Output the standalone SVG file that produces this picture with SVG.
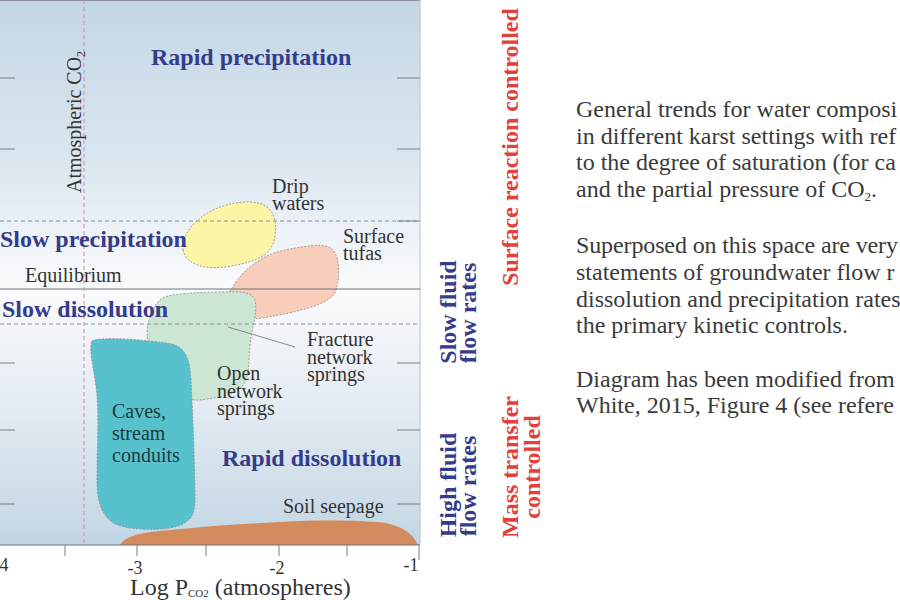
<svg xmlns="http://www.w3.org/2000/svg" width="900" height="600" viewBox="0 0 900 600">
  <defs>
    <linearGradient id="bg" x1="0" y1="0" x2="0" y2="545" gradientUnits="userSpaceOnUse">
      <stop offset="0" stop-color="#C3D6E5"/>
      <stop offset="0.3" stop-color="#DCE7F0"/>
      <stop offset="0.53" stop-color="#FAFBFD"/>
      <stop offset="0.75" stop-color="#E3EBF2"/>
      <stop offset="1" stop-color="#C2D5E4"/>
    </linearGradient>
    <style>
      .lbl { font-family: "Liberation Serif", "Times New Roman", serif; font-size: 20px; fill: #333333; }
      .cave { fill: #21393B; }
      .zone { font-family: "Liberation Serif", "Times New Roman", serif; font-size: 24px; font-weight: bold; fill: #353C8A; }
      .side { font-family: "Liberation Serif", "Times New Roman", serif; font-size: 24px; font-weight: bold; text-anchor: middle; }
      .blue { fill: #353C8A; }
      .red { fill: #E2403C; }
      .para { font-family: "Liberation Serif", "Times New Roman", serif; font-size: 24px; fill: #3A3A3A; }
      .tick { stroke: #7A7F88; stroke-width: 1; fill: none; }
      .hdash { stroke: #8C9096; stroke-width: 1; stroke-dasharray: 4 3; fill: none; }
      .blob { stroke: #8A8A8A; stroke-width: 0.8; stroke-dasharray: 2 1.5; }
      .num { font-family: "Liberation Serif", "Times New Roman", serif; font-size: 18px; fill: #333333; text-anchor: middle; }
    </style>
  </defs>

  <rect x="0" y="0" width="900" height="600" fill="#FFFFFF"/>

  <!-- plot background -->
  <rect x="0" y="0" width="420" height="545" fill="url(#bg)"/>
  <line x1="0" y1="0.5" x2="420" y2="0.5" stroke="#8A9099" stroke-width="1"/>
  <line x1="420" y1="0" x2="420" y2="545" stroke="#B8C2CC" stroke-width="1"/>

  <!-- nodes -->
  <g id="surface-tufas">
    <path class="blob" fill="#F8CDB9" d="M 228,295 C 240,272 258,256 285,250 C 305,246 322,243 331,248 C 341,256 340,280 335,293 C 327,305 302,310 284,314 C 268,317 256,320 250,318 Z"/>
    <text class="lbl" x="343" y="243">Surface</text>
    <text class="lbl" x="343" y="260">tufas</text>
  </g>

  <g id="drip-waters">
    <path class="blob" fill="#FDF5A6" d="M 183,250 C 180,232 205,204 245,202 C 268,201 278,212 275,235 C 273,255 258,262 225,267 C 200,270 185,262 183,250 Z"/>
    <text class="lbl" x="272" y="193">Drip</text>
    <text class="lbl" x="272" y="210">waters</text>
  </g>

  <g id="open-network-springs">
    <path class="blob" fill="#CBE6D3" d="M 160,300 C 166,294 186,293 215,292 C 236,292 251,290 255,300 C 258,312 252,326 250,345 C 248,365 250,378 241,388 C 232,396 215,398 200,400 C 185,401 160,390 155,370 C 150,350 145,335 148,325 C 150,315 154,305 160,300 Z"/>
    <text class="lbl" x="217" y="380">Open</text>
    <text class="lbl" x="217" y="398">network</text>
    <text class="lbl" x="217" y="415">springs</text>
  </g>

  <g id="fracture-network-springs">
    <text class="lbl" x="307" y="346">Fracture</text>
    <text class="lbl" x="307" y="364">network</text>
    <text class="lbl" x="307" y="381">springs</text>
  </g>

  <g id="caves-stream-conduits">
    <path class="blob" fill="#57C2CD" d="M 92,341 C 100,336 150,340 172,344 C 186,348 190,360 191,380 C 193,420 195,470 195,500 C 195,520 186,527 160,529 C 140,530 120,528 112,522 C 101,514 97,500 97,480 C 97,450 99,420 97,395 C 95,372 88,350 92,341 Z"/>
    <text class="lbl cave" x="112" y="418">Caves,</text>
    <text class="lbl cave" x="112" y="440">stream</text>
    <text class="lbl cave" x="112" y="462">conduits</text>
  </g>

  <g id="soil-seepage">
    <path fill="#D38A5C" d="M 120,545 C 125,536 140,533 160,531 C 200,527 240,524 280,522 C 320,520 360,520 385,523 C 405,527 413,535 418,545 Z"/>
    <text class="lbl" x="283" y="513">Soil seepage</text>
  </g>

  <!-- equilibrium and boundaries (drawn over the fields) -->
  <line class="hdash" x1="0" y1="221" x2="420" y2="221"/>
  <line x1="0" y1="289" x2="420" y2="289" stroke="#6E7378" stroke-width="1"/>
  <line class="hdash" x1="0" y1="324" x2="420" y2="324"/>

  <!-- left / right ticks -->
  <g class="tick">
    <line x1="0" y1="78" x2="15" y2="78"/><line x1="397" y1="78" x2="420" y2="78"/>
    <line x1="0" y1="149" x2="15" y2="149"/><line x1="397" y1="149" x2="420" y2="149"/>
    <line x1="397" y1="221" x2="420" y2="221"/>
    <line x1="0" y1="363" x2="15" y2="363"/><line x1="397" y1="363" x2="420" y2="363"/>
    <line x1="0" y1="430" x2="15" y2="430"/><line x1="397" y1="430" x2="420" y2="430"/>
    <line x1="0" y1="504" x2="15" y2="504"/><line x1="397" y1="504" x2="420" y2="504"/>
  </g>

  <!-- atmospheric CO2 line -->
  <line x1="84" y1="0" x2="84" y2="545" stroke="#D08C9C" stroke-width="1" stroke-dasharray="4 3"/>
  <text class="lbl" transform="translate(81,193) rotate(-90)">Atmospheric CO<tspan font-size="12" dy="4">2</tspan></text>

  <!-- connectors -->
  <g id="connectors">
    <line x1="228" y1="327" x2="295" y2="347" stroke="#707070" stroke-width="0.8"/>
  </g>

  <!-- zone labels -->
  <text class="zone" x="151" y="65">Rapid precipitation</text>
  <text class="zone" x="0" y="247">Slow precipitation</text>
  <text class="lbl" x="25" y="282">Equilibrium</text>
  <text class="zone" x="2" y="317">Slow dissolution</text>
  <text class="zone" x="222" y="466">Rapid dissolution</text>

  <!-- bottom axis -->
  <line x1="0" y1="545" x2="420" y2="545" stroke="#6E7378" stroke-width="1"/>
  <g class="tick">
    <line x1="65" y1="545" x2="65" y2="556"/>
    <line x1="137" y1="545" x2="137" y2="556"/>
    <line x1="206" y1="545" x2="206" y2="556"/>
    <line x1="279" y1="545" x2="279" y2="556"/>
    <line x1="347" y1="545" x2="347" y2="556"/>
    <line x1="419" y1="545" x2="419" y2="560"/>
  </g>
  <text class="num" x="4" y="571">4</text>
  <text class="num" x="135" y="574">-3</text>
  <text class="num" x="277" y="574">-2</text>
  <text class="num" x="411" y="571">-1</text>
  <text font-family="Liberation Serif, Times New Roman, serif" font-size="24" fill="#333333" x="130" y="595">Log P<tspan font-size="11" dy="2">CO2</tspan><tspan dy="-2"> (atmospheres)</tspan></text>

  <!-- side labels -->
  <text class="side blue" transform="translate(456,485) rotate(-90)">High fluid</text>
  <text class="side blue" transform="translate(476,486) rotate(-90)">flow rates</text>
  <text class="side blue" transform="translate(456,312) rotate(-90)">Slow fluid</text>
  <text class="side blue" transform="translate(476,313) rotate(-90)">flow rates</text>
  <text class="side red" transform="translate(518,467) rotate(-90)">Mass transfer</text>
  <text class="side red" transform="translate(540,467) rotate(-90)">controlled</text>
  <text class="side red" transform="translate(518,147) rotate(-90)">Surface reaction controlled</text>

  <!-- description -->
  <g class="para">
    <text x="576" y="117">General trends for water composi</text>
    <text x="576" y="144">in different karst settings with ref</text>
    <text x="576" y="170">to the degree of saturation (for ca</text>
    <text x="576" y="197">and the partial pressure of CO<tspan font-size="13" dy="4">2</tspan><tspan dy="-4">.</tspan></text>
    <text x="576" y="253" textLength="322" lengthAdjust="spacing">Superposed on this space are very</text>
    <text x="576" y="280">statements of groundwater flow r</text>
    <text x="576" y="307">dissolution and precipitation rates</text>
    <text x="576" y="333">the primary kinetic controls.</text>
    <text x="576" y="387">Diagram has been modified from</text>
    <text x="576" y="413">White, 2015, Figure 4 (see refere</text>
  </g>
</svg>
